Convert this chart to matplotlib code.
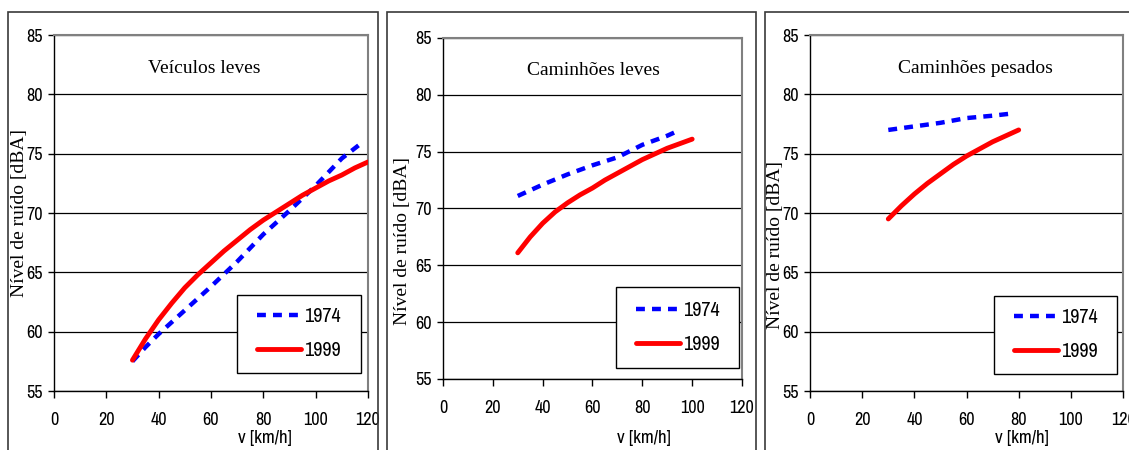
import matplotlib
matplotlib.use("Agg")
import matplotlib.pyplot as plt
from matplotlib.patches import Rectangle

plt.rcParams['font.family'] = ['Archivo Narrow', 'Liberation Sans', 'DejaVu Sans']

# Noise level vs. speed, three vehicle classes, 1974 and 1999 curves
titles = ['Veículos leves', 'Caminhões leves', 'Caminhões pesados']

v74_leves = [30, 35, 40, 45, 50, 60, 70, 80, 90, 100, 110, 117]
L74_leves = [57.5, 58.7, 59.8, 60.8, 61.8, 63.8, 65.9, 68.2, 70.2, 72.3, 74.6, 75.8]
v99_leves = [30, 35, 40, 45, 50, 55, 60, 65, 70, 75, 80, 85, 90, 95, 100, 105, 110, 115, 120]
L99_leves = [57.6, 59.4, 61.0, 62.4, 63.7, 64.8, 65.8, 66.8, 67.7, 68.6, 69.4,
             70.1, 70.8, 71.5, 72.1, 72.7, 73.2, 73.8, 74.3]

v74_cam_leves = [30, 40, 50, 60, 70, 80, 90, 95]
L74_cam_leves = [71.1, 72.1, 73.0, 73.8, 74.5, 75.6, 76.4, 76.9]
v99_cam_leves = [30, 35, 40, 45, 50, 55, 60, 65, 70, 75, 80, 85, 90, 95, 100]
L99_cam_leves = [66.1, 67.5, 68.7, 69.7, 70.5, 71.2, 71.8, 72.5, 73.1, 73.7, 74.3,
                 74.8, 75.3, 75.7, 76.1]

v74_pesados = [30, 40, 50, 60, 70, 78]
L74_pesados = [77.0, 77.3, 77.6, 78.0, 78.2, 78.4]
v99_pesados = [30, 35, 40, 45, 50, 55, 60, 65, 70, 75, 80]
L99_pesados = [69.5, 70.6, 71.6, 72.5, 73.3, 74.1, 74.8, 75.4, 76.0, 76.5, 77.0]

series = [
    (v74_leves, L74_leves, v99_leves, L99_leves),
    (v74_cam_leves, L74_cam_leves, v99_cam_leves, L99_cam_leves),
    (v74_pesados, L74_pesados, v99_pesados, L99_pesados),
]

x_ticks = [0, 20, 40, 60, 80, 100, 120]
y_ticks = [55, 60, 65, 70, 75, 80, 85]

# layout (figure fractions) for each plot area
axes_pos = [
    [0.0478, 0.1311, 0.2781, 0.7911],
    [0.3924, 0.1578, 0.2648, 0.7578],
    [0.7175, 0.1311, 0.2772, 0.7911],
]
frames = [(8, 378), (387, 756), (765, 1140)]
title_xy = [(0.478, 0.907), (0.502, 0.906), (0.530, 0.907)]
ylabel_xy = [(-0.082, 0.50), (-0.108, 0.405), (-0.084, 0.41)]
xlabel_xy = [(0.672, -0.132), (0.672, -0.173), (0.677, -0.132)]
legend_box = [
    (0.583, 0.051, 0.395, 0.219),
    (0.579, 0.032, 0.411, 0.238),
    (0.588, 0.048, 0.393, 0.219),
]

W, H = 1129, 450
fig = plt.figure(figsize=(11.29, 4.5), dpi=100)

for i in range(3):
    # outer chart frame
    x0, x1 = frames[i]
    fig.patches.append(Rectangle((x0 / W, -0.05), (x1 - x0) / W, 1.05 - 12 / H,
                                 transform=fig.transFigure, fill=False,
                                 edgecolor='#3a3a3a', linewidth=1.2))

    ax = fig.add_axes(axes_pos[i])
    v74, L74, v99, L99 = series[i]

    ax.plot(v74, L74, color='#0000ff', linewidth=3.2, linestyle=(0, (2, 1.6)),
            label='1974', zorder=3)
    ax.plot(v99, L99, color='#ff0000', linewidth=3.5, solid_capstyle='round',
            solid_joinstyle='round', label='1999', zorder=3)

    ax.set_xlim(0, 120)
    ax.set_ylim(55, 85)
    ax.set_xticks(x_ticks)
    ax.set_yticks(y_ticks)
    ax.tick_params(axis='x', direction='out', length=5, width=1, pad=10,
                   labelsize=13, colors='black')
    ax.tick_params(axis='y', direction='out', length=4, width=1, pad=4,
                   labelsize=13)

    ax.yaxis.grid(True, color='black', linewidth=0.9)
    ax.set_axisbelow(True)

    for s in ['top', 'right']:
        ax.spines[s].set_color('#808080')
        ax.spines[s].set_linewidth(1.5)
    for s in ['left', 'bottom']:
        ax.spines[s].set_color('black')
        ax.spines[s].set_linewidth(1.0)

    ax.text(title_xy[i][0], title_xy[i][1], titles[i], transform=ax.transAxes,
            ha='center', va='center', fontsize=14, family='Liberation Serif')

    ax.set_ylabel('Nível de ruído [dBA]', fontsize=14, family='Liberation Serif')
    ax.yaxis.set_label_coords(*ylabel_xy[i])

    ax.text(xlabel_xy[i][0], xlabel_xy[i][1], 'v [km/h]', transform=ax.transAxes,
            ha='center', va='center', fontsize=13.5)

    # legend frame drawn as a box, entries centred inside it
    bx, by, bw, bh = legend_box[i]
    ax.add_patch(Rectangle((bx, by), bw, bh, transform=ax.transAxes,
                           facecolor='white', edgecolor='black', linewidth=1.0,
                           zorder=4))
    ax.legend(loc='center', bbox_to_anchor=(bx + bw / 2, by + bh / 2),
              bbox_transform=ax.transAxes, frameon=False, fontsize=14.5,
              handlelength=2.2, handletextpad=0.15, labelspacing=0.75,
              borderpad=0).set_zorder(5)

fig.savefig('out.png', dpi=100)
